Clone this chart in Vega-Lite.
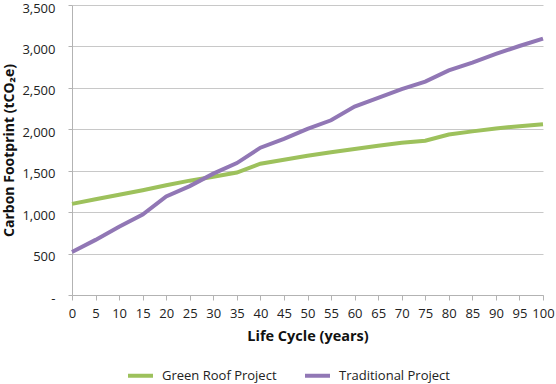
{
  "$schema": "https://vega.github.io/schema/vega-lite/v6.json",
  "width": 471,
  "height": 290,
  "autosize": {"type": "none"},
  "padding": {"left": 72, "top": 5, "right": 13, "bottom": 89},
  "background": "white",
  "config": {
    "view": {"stroke": null},
    "font": "Open Sans"
  },
  "data": {
    "values": [
      {"year": 0, "series": "Green Roof Project", "co2": 1100},
      {"year": 5, "series": "Green Roof Project", "co2": 1155},
      {"year": 10, "series": "Green Roof Project", "co2": 1210},
      {"year": 15, "series": "Green Roof Project", "co2": 1265},
      {"year": 20, "series": "Green Roof Project", "co2": 1325},
      {"year": 25, "series": "Green Roof Project", "co2": 1380},
      {"year": 30, "series": "Green Roof Project", "co2": 1428},
      {"year": 35, "series": "Green Roof Project", "co2": 1478},
      {"year": 40, "series": "Green Roof Project", "co2": 1585},
      {"year": 45, "series": "Green Roof Project", "co2": 1632},
      {"year": 50, "series": "Green Roof Project", "co2": 1680},
      {"year": 55, "series": "Green Roof Project", "co2": 1722},
      {"year": 60, "series": "Green Roof Project", "co2": 1762},
      {"year": 65, "series": "Green Roof Project", "co2": 1800},
      {"year": 70, "series": "Green Roof Project", "co2": 1838},
      {"year": 75, "series": "Green Roof Project", "co2": 1862},
      {"year": 80, "series": "Green Roof Project", "co2": 1936},
      {"year": 85, "series": "Green Roof Project", "co2": 1975},
      {"year": 90, "series": "Green Roof Project", "co2": 2010},
      {"year": 95, "series": "Green Roof Project", "co2": 2038},
      {"year": 100, "series": "Green Roof Project", "co2": 2062},
      {"year": 0, "series": "Traditional Project", "co2": 520},
      {"year": 5, "series": "Traditional Project", "co2": 665},
      {"year": 10, "series": "Traditional Project", "co2": 825},
      {"year": 15, "series": "Traditional Project", "co2": 970},
      {"year": 20, "series": "Traditional Project", "co2": 1190},
      {"year": 25, "series": "Traditional Project", "co2": 1314},
      {"year": 30, "series": "Traditional Project", "co2": 1465},
      {"year": 35, "series": "Traditional Project", "co2": 1592},
      {"year": 40, "series": "Traditional Project", "co2": 1778},
      {"year": 45, "series": "Traditional Project", "co2": 1885},
      {"year": 50, "series": "Traditional Project", "co2": 2005},
      {"year": 55, "series": "Traditional Project", "co2": 2109},
      {"year": 60, "series": "Traditional Project", "co2": 2275},
      {"year": 65, "series": "Traditional Project", "co2": 2378},
      {"year": 70, "series": "Traditional Project", "co2": 2484},
      {"year": 75, "series": "Traditional Project", "co2": 2575},
      {"year": 80, "series": "Traditional Project", "co2": 2710},
      {"year": 85, "series": "Traditional Project", "co2": 2805},
      {"year": 90, "series": "Traditional Project", "co2": 2910},
      {"year": 95, "series": "Traditional Project", "co2": 3005},
      {"year": 100, "series": "Traditional Project", "co2": 3095}
    ]
  },
  "mark": {"type": "line", "strokeWidth": 4, "strokeCap": "butt"},
  "encoding": {
    "x": {
      "field": "year",
      "type": "quantitative",
      "scale": {"domain": [0, 100], "nice": false},
      "axis": {
        "title": "Life Cycle (years)",
        "values": [0,5,10,15,20,25,30,35,40,45,50,55,60,65,70,75,80,85,90,95,100],
        "labelOverlap": false,
        "labelFlush": false,
        "grid": false,
        "domainColor": "#b3b3b3",
        "tickColor": "#b3b3b3",
        "tickSize": 5,
        "labelPadding": 7,
        "labelFontSize": 13,
        "labelColor": "#222222",
        "labelFont": "Open Sans",
        "titleFont": "Open Sans",
        "titleFontSize": 14.5,
        "titleFontWeight": "bold",
        "titleColor": "#111111",
        "titlePadding": 9
      }
    },
    "y": {
      "field": "co2",
      "type": "quantitative",
      "scale": {"domain": [0, 3500], "nice": false},
      "axis": {
        "title": "Carbon Footprint (tCO₂e)",
        "values": [0, 500, 1000, 1500, 2000, 2500, 3000, 3500],
        "labelExpr": "datum.value == 0 ? '-\u00a0\u00a0\u00a0' : format(datum.value, ',')",
        "labelOverlap": false,
        "labelFlush": false,
        "labelOffset": 3,
        "gridColor": "#c8c8c8",
        "domainColor": "#b3b3b3",
        "tickColor": "#b3b3b3",
        "tickSize": 4,
        "labelPadding": 13,
        "labelFontSize": 13,
        "labelColor": "#222222",
        "labelFont": "Open Sans",
        "titleFont": "Open Sans",
        "titleFontSize": 14,
        "titleFontWeight": "bold",
        "titleColor": "#111111",
        "titlePadding": 5
      }
    },
    "color": {
      "field": "series",
      "type": "nominal",
      "scale": {
        "domain": ["Green Roof Project", "Traditional Project"],
        "range": ["#9dc15c", "#9177b5"]
      },
      "legend": {
        "orient": "none",
        "legendX": 54,
        "legendY": 356,
        "direction": "horizontal",
        "title": null,
        "symbolType": "stroke",
        "symbolSize": 625,
        "symbolStrokeWidth": 4,
        "labelFontSize": 13,
        "labelOffset": 7,
        "labelFont": "Open Sans",
        "labelColor": "#222222",
        "columnPadding": 20
      }
    }
  }
}
